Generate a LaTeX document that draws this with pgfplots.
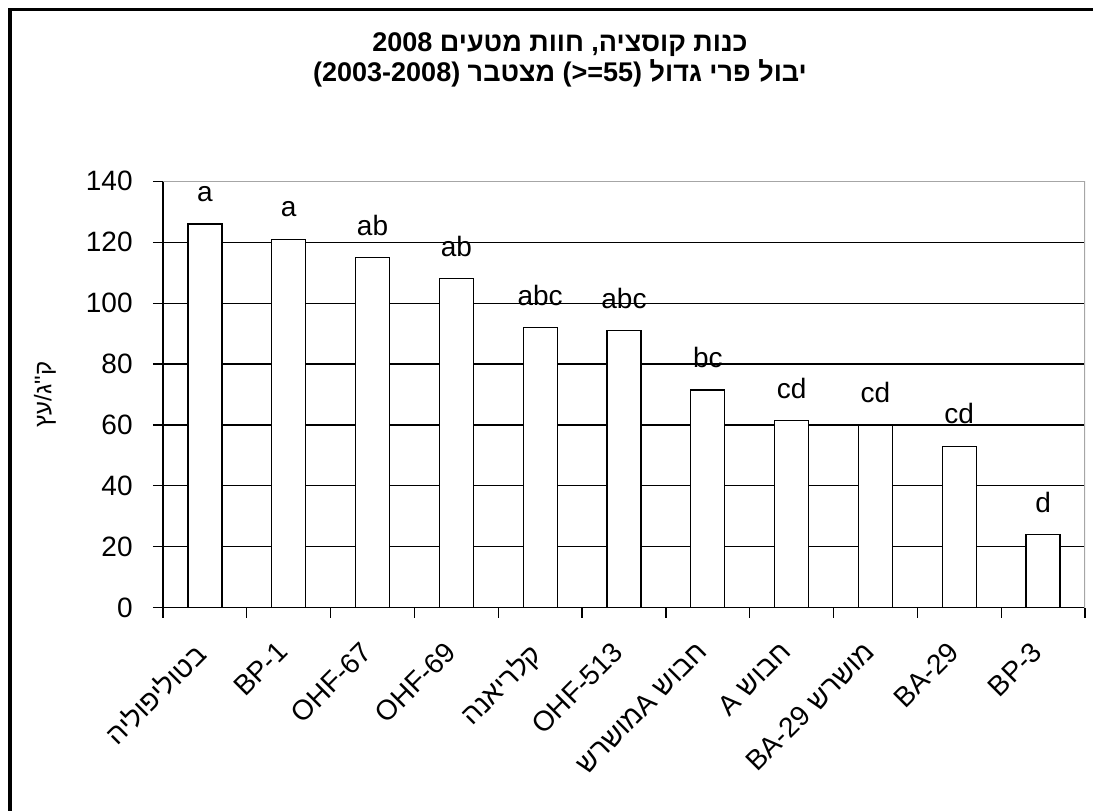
\documentclass[border=0pt]{standalone}
\usepackage{fontspec}
\setmainfont{Liberation Sans}
\newfontfamily\heb[Script=Hebrew]{Liberation Sans}
\TeXXeTstate=1
\usepackage{pgfplots}
\pgfplotsset{compat=1.18}
\begin{document}
\begin{tikzpicture}
\useasboundingbox (0,0) rectangle (546.5pt,405pt);
\draw[line width=1.75pt] (4.875pt,-20pt) -- (4.875pt,400.125pt) -- (570pt,400.125pt);
\node[font=\heb\bfseries\fontsize{13.5}{15}\selectfont, align=center] at (280pt,375pt)
 {\beginR כנות קוסציה\kern0pt, חוות מטעים 2008\endR\\
  \beginR יבול פרי גדול \beginL(55=<)\endL{} מצטבר \beginL(2003-2008)\endL\endR};
\begin{axis}[
  at={(81.5pt,101.15pt)}, anchor=south west,
  scale only axis, width=461pt, height=213.2pt,
  xmin=-0.5, xmax=10.5, ymin=0, ymax=140,
  axis x line*=bottom, axis y line*=left,
  axis line style={black, line width=0.65pt},
  tick align=outside,
  major tick length=5pt,
  tick style={black, line width=0.6pt},
  ytick={0,20,...,140},
  xtick={-0.5,0.5,...,10.5},
  xticklabels={{},{},{},{},{},{},{},{},{},{},{},{}},
  extra x ticks={0,1,...,10},
  extra x tick labels={{\heb בטוליפוליה},BP-1,OHF-67,OHF-69,{\heb קלריאנה},OHF-513,
    {\heb\beginR חבוש A\kern0pt מושרש\endR},{\heb\beginR חבוש A\endR},
    {\heb\beginR מושרש \beginL BA-29\endL\endR},BA-29,BP-3},
  extra x tick style={major tick length=0pt},
  extra y ticks={20,40,...,120},
  extra y tick labels={},
  extra y tick style={major tick length=0pt, grid=major},
  grid style={black, line width=0.55pt},
  /pgf/number format/assume math mode=true,
  tick label style={font=\fontsize{14}{16}\selectfont},
  yticklabel style={anchor=east, inner sep=0pt, xshift=-10pt},
  xticklabel style={inner sep=0pt, anchor=north east, xshift=-6.5pt, yshift=-16pt, rotate=45},
  ylabel={\heb\beginR ק"ג/עץ\endR},
  ylabel style={at={(axis description cs:-0.128,0.5)}, anchor=center, font=\fontsize{12}{14}\selectfont},
  every node near coord/.append style={font=\fontsize{14}{16}\selectfont, inner sep=0pt, yshift=10.75pt},
]
\addplot[ybar, bar width=17pt, draw=black, fill=white, line width=0.6pt,
  nodes near coords, point meta=explicit symbolic]
  table[meta=lab] {
x y lab
0 126 a
1 121 a
2 115 ab
3 108 ab
4 92 abc
5 91 abc
6 71.5 bc
7 61.5 cd
8 60 cd
9 53 cd
10 24 d
};
\draw[gray!70, line width=0.65pt] (axis cs:-0.5,140) -- (axis cs:10.5,140) -- (axis cs:10.5,0);
\end{axis}
\end{tikzpicture}
\end{document}
